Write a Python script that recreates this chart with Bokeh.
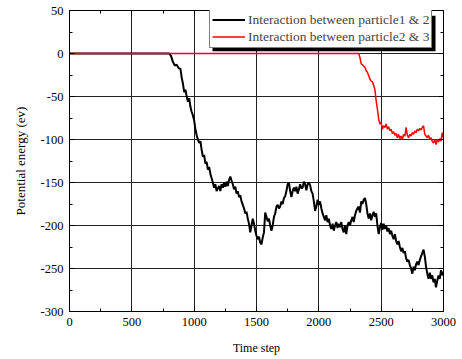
from bokeh.plotting import figure
from bokeh.models import (LinearAxis, Range1d, Legend, LegendItem, BoxAnnotation,
                          FixedTicker, CustomJSTickFormatter)
from bokeh.embed import file_html
from bokeh.resources import INLINE

# ---- data ----
t_12 = [0, 800, 815, 830, 845, 860, 875, 890, 900, 910, 920, 930, 940, 950, 960, 970, 980, 990,
        1000, 1010, 1020, 1030, 1040, 1050, 1060, 1070, 1080, 1090, 1100, 1110, 1120, 1130, 1140,
        1150, 1160, 1170, 1180, 1190, 1200, 1210, 1220, 1230, 1240, 1250, 1260, 1270, 1280, 1290,
        1300, 1310, 1320, 1330, 1340, 1350, 1360, 1370, 1380, 1390, 1400, 1410, 1420, 1430, 1440,
        1450, 1460, 1470, 1480, 1490, 1500, 1510, 1520, 1530, 1540, 1550, 1560, 1570, 1580, 1590,
        1600, 1610, 1620, 1630, 1640, 1650, 1660, 1670, 1680, 1690, 1700, 1710, 1720, 1730, 1740,
        1750, 1760, 1770, 1780, 1790, 1800, 1810, 1820, 1830, 1840, 1850, 1860, 1870, 1880, 1890,
        1900, 1910, 1920, 1930, 1940, 1950, 1960, 1970, 1980, 1990, 2000, 2010, 2020, 2030, 2040,
        2050, 2060, 2070, 2080, 2090, 2100, 2110, 2120, 2130, 2140, 2150, 2160, 2170, 2180, 2190,
        2200, 2210, 2220, 2230, 2240, 2250, 2260, 2270, 2280, 2290, 2300, 2310, 2320, 2330, 2340,
        2350, 2360, 2370, 2380, 2390, 2400, 2410, 2420, 2430, 2440, 2450, 2460, 2470, 2480, 2490,
        2500, 2510, 2520, 2530, 2540, 2550, 2560, 2570, 2580, 2590, 2600, 2610, 2620, 2630, 2640,
        2650, 2660, 2670, 2680, 2690, 2700, 2710, 2720, 2730, 2740, 2750, 2760, 2770, 2780, 2790,
        2800, 2810, 2820, 2830, 2840, 2850, 2860, 2870, 2880, 2890, 2900, 2910, 2920, 2930, 2940,
        2950, 2960, 2970, 2980, 2990, 3000]
e_12 = [0, 0, -3, -10, -14, -13, -17, -18, -28, -35, -45, -42, -50, -56, -52, -62, -68, -72,
        -78, -88, -95, -100, -104, -102, -112, -120, -118, -128, -126, -135, -132, -140, -145,
        -150, -156, -152, -160, -157, -154, -160, -152, -156, -150, -155, -149, -154, -147, -143,
        -148, -152, -158, -155, -163, -160, -167, -165, -172, -176, -180, -186, -184, -192, -198,
        -208, -200, -192, -198, -206, -212, -216, -213, -220, -222, -214, -208, -185, -190, -195,
        -192, -200, -206, -200, -190, -186, -178, -176, -180, -178, -172, -175, -168, -166, -160,
        -152, -150, -160, -167, -160, -156, -160, -155, -163, -158, -152, -157, -156, -149, -152,
        -159, -152, -150, -153, -160, -163, -172, -183, -178, -170, -176, -172, -180, -186, -190,
        -194, -188, -196, -192, -200, -204, -198, -206, -200, -196, -203, -198, -202, -196, -204,
        -208, -200, -210, -200, -196, -200, -194, -190, -196, -188, -183, -180, -178, -185, -172,
        -175, -170, -168, -175, -186, -192, -186, -194, -188, -184, -190, -186, -200, -210, -202,
        -197, -205, -198, -204, -200, -207, -203, -210, -206, -212, -216, -210, -218, -222, -218,
        -225, -230, -226, -232, -230, -238, -242, -240, -246, -250, -256, -248, -252, -245, -242,
        -246, -240, -236, -232, -228, -236, -248, -256, -262, -255, -262, -258, -266, -262, -272,
        -264, -258, -262, -252, -258, -254]

t_23 = [0, 2320, 2330, 2340, 2350, 2360, 2370, 2380, 2390, 2400, 2410, 2420, 2430, 2440, 2450,
        2460, 2470, 2480, 2490, 2500, 2510, 2520, 2530, 2540, 2550, 2560, 2570, 2580, 2590, 2600,
        2610, 2620, 2630, 2640, 2650, 2660, 2670, 2680, 2690, 2700, 2710, 2720, 2730, 2740, 2750,
        2760, 2770, 2780, 2790, 2800, 2810, 2820, 2830, 2840, 2850, 2860, 2870, 2880, 2890, 2900,
        2910, 2920, 2930, 2940, 2950, 2960, 2970, 2980, 2990, 3000]
e_23 = [0, 0, -5, -12, -13, -15, -16, -20, -22, -26, -30, -32, -33, -37, -42,
        -55, -65, -76, -82, -80, -88, -84, -86, -82, -88, -85, -90, -88, -93, -91,
        -95, -93, -98, -94, -99, -96, -100, -94, -96, -86, -95, -98, -94, -96, -92,
        -94, -90, -92, -88, -90, -87, -89, -86, -84, -94, -96, -98, -95, -100, -98,
        -102, -104, -100, -106, -100, -103, -99, -102, -92, -98]

x_ticks = [0, 500, 1000, 1500, 2000, 2500, 3000]
y_ticks = [-300, -250, -200, -150, -100, -50, 0, 50]
series_labels = ["Interaction between particle1 & 2", "Interaction between particle2 & 3"]

FONT = "Liberation Serif"

p = figure(width=462, height=359, output_backend="svg", toolbar_location=None,
           x_range=Range1d(0, 3000), y_range=Range1d(-300, 50),
           min_border_left=69, min_border_right=19, min_border_top=10, min_border_bottom=48)
p.background_fill_color = "white"
p.border_fill_color = "white"
p.outline_line_color = "black"
p.outline_line_width = 1

xt = FixedTicker(ticks=x_ticks, minor_ticks=[v + 250 for v in x_ticks[:-1]])
yt = FixedTicker(ticks=y_ticks, minor_ticks=[v + 25 for v in y_ticks[:-1]])

p.xaxis.ticker = xt
p.yaxis.ticker = yt
p.xgrid.ticker = xt
p.ygrid.ticker = yt
for g in (p.xgrid, p.ygrid):
    g.grid_line_color = "#222222"
    g.grid_line_width = 1

p.xaxis.axis_label = "Time step"
p.yaxis.axis_label = "Potential energy (ev)"
p.xaxis.major_label_overrides = {v: str(v) for v in x_ticks}
p.yaxis.major_label_overrides = {v: str(v) for v in y_ticks}

for ax in (p.xaxis, p.yaxis):
    ax.axis_line_color = "black"
    ax.major_tick_in = 5
    ax.major_tick_out = 0
    ax.minor_tick_in = 3
    ax.minor_tick_out = 0
    ax.major_tick_line_color = "black"
    ax.minor_tick_line_color = "black"
    ax.major_label_text_font = FONT
    ax.major_label_text_font_size = "12.5px"
    ax.major_label_text_color = "black"
    ax.axis_label_text_font = FONT
    ax.axis_label_text_font_style = "normal"
    ax.axis_label_text_color = "black"
p.xaxis.axis_label_text_font_size = "12px"
p.yaxis.axis_label_text_font_size = "13px"
p.xaxis.major_label_standoff = 6
p.yaxis.major_label_standoff = 6
p.xaxis.axis_label_standoff = 12
p.yaxis.axis_label_standoff = 10

for loc in ("above", "right"):
    ax = LinearAxis(ticker=xt if loc == "above" else yt,
                    formatter=CustomJSTickFormatter(code="return ''"))
    ax.major_tick_in = 5
    ax.major_tick_out = 0
    ax.minor_tick_in = 3
    ax.minor_tick_out = 0
    ax.major_label_standoff = 0
    ax.axis_line_color = "black"
    p.add_layout(ax, loc)

r1 = p.line(t_12, e_12, line_color="black", line_width=2)
r2 = p.line(t_23, e_23, line_color="red", line_width=1.5)

# legend shadow
p.add_layout(BoxAnnotation(left=1147, right=2936, top=44, bottom=2.5,
                           fill_color="black", fill_alpha=1, line_color=None, level="overlay"))

legend = Legend(items=[LegendItem(label=series_labels[0], renderers=[r1]),
                       LegendItem(label=series_labels[1], renderers=[r2])],
                location=(140, 263), orientation="vertical",
                padding=2, spacing=0, margin=0,
                label_height=17, glyph_height=17, glyph_width=33, label_standoff=3,
                label_text_font=FONT, label_text_font_size="13.5px",
                border_line_color="black", border_line_width=1,
                background_fill_color="white", background_fill_alpha=1)
p.add_layout(legend)

open("out.html", "w").write(file_html(p, INLINE))
